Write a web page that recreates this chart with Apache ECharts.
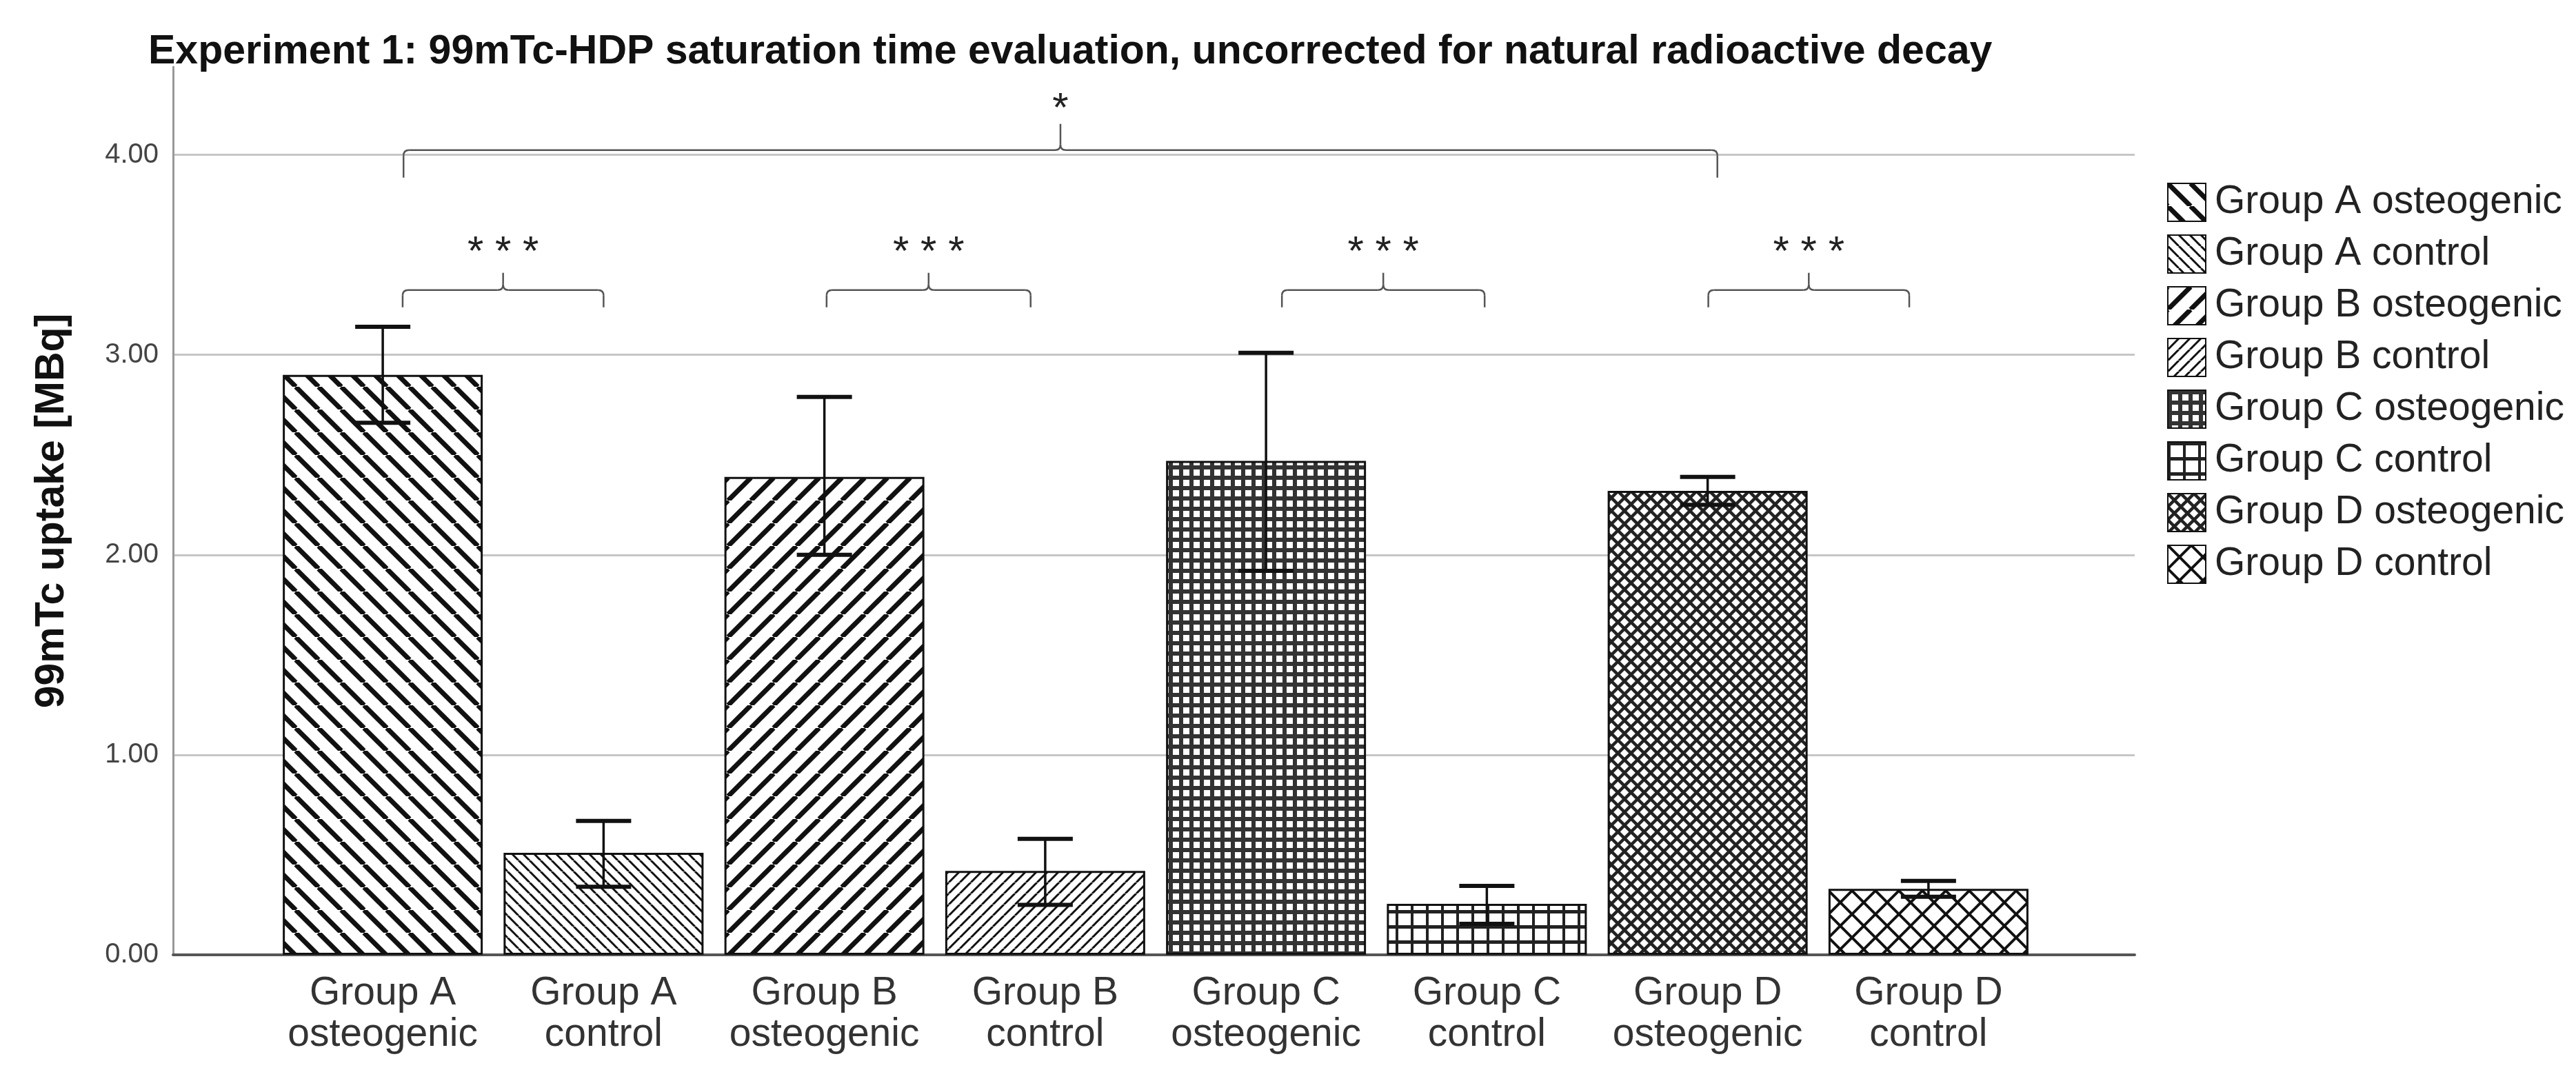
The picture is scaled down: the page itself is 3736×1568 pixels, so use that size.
<!DOCTYPE html>
<html>
<head>
<meta charset="utf-8">
<script src="https://cdn.jsdelivr.net/npm/echarts@6/dist/echarts.min.js"></script>
<style>
html,body{margin:0;padding:0;background:#fff;}
#chart{width:3736px;height:1568px;}
</style>
</head>
<body>
<div id="chart"></div>
<script>
// ---------------- data ----------------
const categories = ['Group A\nosteogenic','Group A\ncontrol','Group B\nosteogenic','Group B\ncontrol',
                    'Group C\nosteogenic','Group C\ncontrol','Group D\nosteogenic','Group D\ncontrol'];
const seriesNames = ['Group A osteogenic','Group A control','Group B osteogenic','Group B control',
                     'Group C osteogenic','Group C control','Group D osteogenic','Group D control'];
const meanValues = [2.90, 0.51, 2.39, 0.42, 2.47, 0.255, 2.32, 0.33];
const errLow     = [2.66, 0.34, 2.00, 0.25, 1.92, 0.155, 2.25, 0.29];
const errHigh    = [3.14, 0.67, 2.79, 0.58, 3.01, 0.345, 2.39, 0.37];
const yMin = 0, yMax = 4.44, yInterval = 1;
// significance brackets: [from category position, to category position, y value]
const pairBrackets = [[0.09, 1.00, 3.324], [2.01, 2.934, 3.324], [4.072, 4.99, 3.324], [6.003, 6.913, 3.324]];
const pairLabels = ['* * *', '* * *', '* * *', '* * *'];
const overallBracket = [[0.094, 6.044, 4.024]];
const overallLabels = ['*'];

// ---------------- patterns ----------------
function tile(size, draw) {
  const c = document.createElement('canvas');
  c.width = size; c.height = size;
  const ctx = c.getContext('2d');
  ctx.fillStyle = '#fff'; ctx.fillRect(0, 0, size, size);
  ctx.strokeStyle = '#111'; ctx.fillStyle = '#111';
  draw(ctx, size);
  return {image: c, repeat: 'repeat'};
}
function back(ctx, s, w, col) { // "\" lines
  ctx.lineWidth = w; ctx.strokeStyle = col || '#111';
  for (let k = -1; k <= 1; k++) { ctx.beginPath(); ctx.moveTo(k * s, 0); ctx.lineTo(k * s + s, s); ctx.stroke(); }
}
function fwd(ctx, s, w, col) { // "/" lines
  ctx.lineWidth = w; ctx.strokeStyle = col || '#111';
  for (let k = -1; k <= 1; k++) { ctx.beginPath(); ctx.moveTo(k * s, s); ctx.lineTo(k * s + s, 0); ctx.stroke(); }
}
function grid(ctx, s, wh, wv, col) {
  ctx.fillStyle = col;
  ctx.fillRect(0, 0, s, wh);
  ctx.fillRect(0, 0, wv, s);
}
const patterns = [
  tile(33, (c, s) => back(c, s, 7)),
  tile(16, (c, s) => back(c, s, 3)),
  tile(33, (c, s) => fwd(c, s, 7)),
  tile(16, (c, s) => fwd(c, s, 3)),
  tile(15, (c, s) => grid(c, s, 6, 6, '#333')),
  tile(22, (c, s) => grid(c, s, 5, 4, '#222')),
  tile(19, (c, s) => { back(c, s, 4.5, '#222'); fwd(c, s, 4.5, '#222'); }),
  tile(34, (c, s) => { back(c, s, 4); fwd(c, s, 4); })
];

// ---------------- chart ----------------
const FONT = 'Liberation Sans, Arial, sans-serif';
const chart = echarts.init(document.getElementById('chart'), null, {renderer: 'canvas'});

const barSeries = seriesNames.map((name, i) => ({
  name: name,
  type: 'bar',
  xAxisIndex: 1, yAxisIndex: 1,
  stack: 'all',
  barWidth: 290,
  data: meanValues.map((v, j) => (j === i ? v : '-')),
  itemStyle: {color: patterns[i], borderColor: '#111', borderWidth: 3},
  emphasis: {disabled: true},
  z: 2
}));

function bracketRender(drop, tip, r, textUp, fontSize, labels) {
  return function (params, api) {
    const y = api.value(2);
    const p0 = api.coord([0, y]);
    const p1 = api.coord([1, y]);
    const pitch = p1[0] - p0[0];
    const xL = p0[0] + api.value(0) * pitch;
    const xR = p0[0] + api.value(1) * pitch;
    const yl = p0[1];
    const xc = (xL + xR) / 2;
    const st = {stroke: '#555', lineWidth: 2.5, fill: null};
    const ch = [
      {type: 'line', shape: {x1: xL, y1: yl + drop, x2: xL, y2: yl + r}, style: st},
      {type: 'bezierCurve', shape: {x1: xL, y1: yl + r, cpx1: xL, cpy1: yl, x2: xL + r, y2: yl}, style: st},
      {type: 'line', shape: {x1: xL + r, y1: yl, x2: xc - r, y2: yl}, style: st},
      {type: 'bezierCurve', shape: {x1: xc - r, y1: yl, cpx1: xc, cpy1: yl, x2: xc, y2: yl - r}, style: st},
      {type: 'line', shape: {x1: xc, y1: yl - r, x2: xc, y2: yl - tip}, style: st},
      {type: 'bezierCurve', shape: {x1: xc + r, y1: yl, cpx1: xc, cpy1: yl, x2: xc, y2: yl - r}, style: st},
      {type: 'line', shape: {x1: xc + r, y1: yl, x2: xR - r, y2: yl}, style: st},
      {type: 'bezierCurve', shape: {x1: xR - r, y1: yl, cpx1: xR, cpy1: yl, x2: xR, y2: yl + r}, style: st},
      {type: 'line', shape: {x1: xR, y1: yl + r, x2: xR, y2: yl + drop}, style: st},
      {type: 'text', style: {text: labels[params.dataIndex], x: xc, y: yl - tip - textUp,
        align: 'center', verticalAlign: 'middle', fontSize: fontSize, fontFamily: FONT, fill: '#222'}}
    ];
    return {type: 'group', children: ch};
  };
}

const option = {
  animation: false,
  backgroundColor: '#fff',
  title: {
    text: 'Experiment 1: 99mTc-HDP saturation time evaluation, uncorrected for natural radioactive decay',
    left: 210, top: 41,
    textStyle: {fontFamily: FONT, fontSize: 59, fontWeight: 'bold', color: '#111'}
  },
  legend: {
    data: seriesNames,
    orient: 'vertical',
    left: 3143, top: 265,
    itemWidth: 55, itemHeight: 55, itemGap: 18,
    icon: 'rect',
    selectedMode: false,
    padding: 0,
    textStyle: {fontFamily: FONT, fontSize: 57, color: '#222', padding: [6, 0, 0, 8]}
  },
  grid: [
    {left: 251, right: 640, top: 97, bottom: 183, containLabel: false},
    {left: 395, right: 779, top: 97, bottom: 183, containLabel: false}
  ],
  xAxis: [
    {type: 'category', gridIndex: 0, data: [''],
     axisLine: {show: true, lineStyle: {color: '#555', width: 4}},
     axisTick: {show: false}, axisLabel: {show: false}, splitLine: {show: false}},
    {type: 'category', gridIndex: 1, data: categories,
     axisLine: {show: false}, axisTick: {show: false}, splitLine: {show: false},
     axisLabel: {interval: 0, margin: 26, fontFamily: FONT, fontSize: 57, lineHeight: 60, color: '#333'}}
  ],
  yAxis: [
    {type: 'value', gridIndex: 0, min: yMin, max: yMax, interval: yInterval,
     name: '99mTc uptake [MBq]', nameLocation: 'middle', nameGap: 146, nameRotate: 90,
     nameTextStyle: {fontFamily: FONT, fontSize: 59, fontWeight: 'bold', color: '#111'},
     axisLine: {show: true, lineStyle: {color: '#999', width: 3}},
     axisTick: {show: false},
     axisLabel: {showMaxLabel: false, margin: 21, fontFamily: FONT, fontSize: 40, color: '#444',
                 formatter: v => v.toFixed(2)},
     splitLine: {show: true, showMaxLine: false, lineStyle: {color: '#c6c6c6', width: 3}}},
    {type: 'value', gridIndex: 1, min: yMin, max: yMax, interval: yInterval, show: false,
     splitLine: {show: false}}
  ],
  series: barSeries.concat([
    {
      type: 'custom', name: 'error', xAxisIndex: 1, yAxisIndex: 1, z: 5, silent: true,
      data: errLow.map((lo, i) => [i, lo, errHigh[i]]),
      encode: {x: 0, y: [1, 2]},
      renderItem: function (params, api) {
        const x = api.value(0);
        const pLo = api.coord([x, api.value(1)]);
        const pHi = api.coord([x, api.value(2)]);
        const cap = 40;
        const st = {stroke: '#111', lineWidth: 3.5};
        const stc = {stroke: '#111', lineWidth: 6};
        return {type: 'group', children: [
          {type: 'line', shape: {x1: pLo[0], y1: pLo[1], x2: pHi[0], y2: pHi[1]}, style: st},
          {type: 'line', shape: {x1: pHi[0] - cap, y1: pHi[1], x2: pHi[0] + cap, y2: pHi[1]}, style: stc},
          {type: 'line', shape: {x1: pLo[0] - cap, y1: pLo[1], x2: pLo[0] + cap, y2: pLo[1]}, style: stc}
        ]};
      }
    },
    {
      type: 'custom', name: 'pairs', xAxisIndex: 1, yAxisIndex: 1, z: 6, silent: true,
      data: pairBrackets, encode: {x: [0, 1], y: 2},
      renderItem: bracketRender(25, 25, 8, 28, 60, pairLabels)
    },
    {
      type: 'custom', name: 'overall', xAxisIndex: 1, yAxisIndex: 1, z: 6, silent: true,
      data: overallBracket, encode: {x: [0, 1], y: 2},
      renderItem: bracketRender(40, 38, 8, 20, 60, overallLabels)
    }
  ])
};
chart.setOption(option);
</script>
</body>
</html>
